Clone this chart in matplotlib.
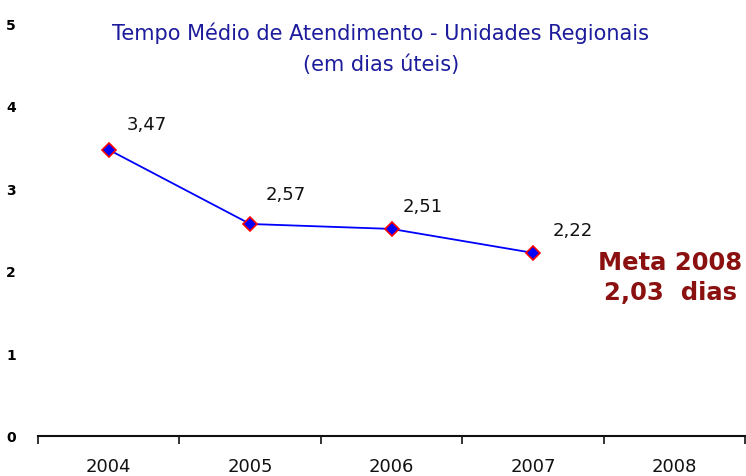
import matplotlib
matplotlib.use("Agg")
import matplotlib.pyplot as plt
import numpy as np

years = ["2004", "2005", "2006", "2007", "2008"]
values = [3.47, 2.57, 2.51, 2.22]
value_labels = ["3,47", "2,57", "2,51", "2,22"]
y_ticks = [0, 1, 2, 3, 4, 5]
title_line1 = "Tempo Médio de Atendimento - Unidades Regionais"
title_line2 = "(em dias úteis)"
meta_text = "Meta 2008\n2,03  dias"

fig = plt.figure(figsize=(7.46, 4.77), dpi=100)
ax = fig.add_axes([38/746, 1-437/477, 707/746, (437-24.5)/477])

x = np.arange(len(values))
ax.plot(x, values, color="#0000ff", lw=1.3, marker="D", markersize=7.5,
        markerfacecolor="#0000ff", markeredgecolor="#ff0000", markeredgewidth=1.2, zorder=3)

offsets = [(13, 12), (11, 15), (8, 10), (14, 10)]
for xi, v, lab, off in zip(x, values, value_labels, offsets):
    ax.annotate(lab, (xi, v), xytext=off, textcoords="offset points",
                fontsize=13, color="#111111", ha="left", va="bottom")

ax.set_xlim(-0.5, len(years) - 0.5)
ax.set_ylim(0, 5)
ax.set_yticks(y_ticks)
ax.set_yticklabels([str(t) for t in y_ticks], fontsize=10, fontweight="bold")
ax.tick_params(axis="y", length=0, pad=16)

ax.set_xticks(np.arange(len(years) + 1) - 0.5)
ax.set_xticklabels([])
ax.tick_params(axis="x", direction="out", length=6, width=1.2, color="#111111")
for i, yl in enumerate(years):
    ax.text(i, -0.25, yl, ha="center", va="top", fontsize=13, color="#111111",
            transform=ax.transData)

for s in ["top", "right", "left"]:
    ax.spines[s].set_visible(False)
ax.spines["bottom"].set_linewidth(1.5)
ax.spines["bottom"].set_color("#111111")

fig.text(381/746, 1-33/477, title_line1, ha="center", va="center",
         fontsize=15, color="#1c1c9c")
fig.text(381/746, 1-65/477, title_line2, ha="center", va="center",
         fontsize=15, color="#1c1c9c")

fig.text(670/746, 1-278/477, meta_text, ha="center", va="center",
         fontsize=17.5, fontweight="bold", color="#8b1010", linespacing=1.3)

fig.savefig("out.png", dpi=100)
